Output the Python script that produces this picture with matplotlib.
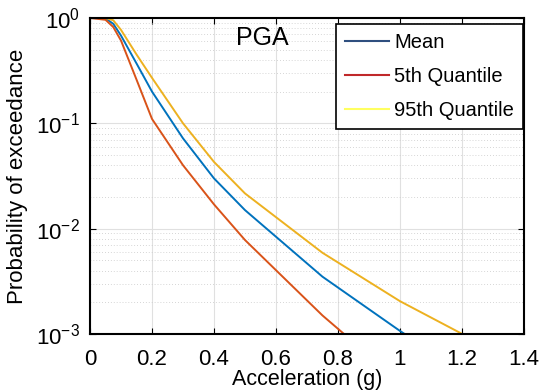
import numpy as np
import matplotlib
matplotlib.use('Agg')
import matplotlib.pyplot as plt
from matplotlib.lines import Line2D
from matplotlib.ticker import FixedLocator, LogLocator, NullFormatter

plt.rcParams['font.family'] = ['Liberation Sans', 'DejaVu Sans']
plt.rcParams['mathtext.fontset'] = 'custom'
plt.rcParams['mathtext.rm'] = 'Liberation Sans'
plt.rcParams['mathtext.it'] = 'Liberation Sans'

# hazard curve values
accel = [0.0, 0.05, 0.075, 0.1, 0.15, 0.2, 0.3, 0.4, 0.5, 0.75, 1.0, 1.25]
mean_poe = [1.0, 0.99, 0.88, 0.68, 0.37, 0.20, 0.072, 0.030, 0.015, 0.0035, 0.00107, 0.00035]
q05_poe = [1.0, 0.96, 0.82, 0.61, 0.26, 0.11, 0.040, 0.017, 0.0078, 0.0015, 0.00035, 0.0001]
q95_poe = [1.0, 1.0, 0.95, 0.77, 0.45, 0.27, 0.10, 0.043, 0.0216, 0.0059, 0.00205, 0.00084]

x_ticks = [0, 0.2, 0.4, 0.6, 0.8, 1.0, 1.2, 1.4]
x_ticklabels = ['0', '0.2', '0.4', '0.6', '0.8', '1', '1.2', '1.4']
y_ticks = [1e-3, 1e-2, 1e-1, 1e0]
y_ticklabels = ['10$^{-3}$', '10$^{-2}$', '10$^{-1}$', '10$^{0}$']

fig = plt.figure(figsize=(5.39, 3.9), dpi=100)
ax = fig.add_axes([0.167, 0.1436, 0.805, 0.8104])

ax.plot(accel, mean_poe, color='#0072BD', lw=1.4)
ax.plot(accel, q05_poe, color='#D95319', lw=1.4)
ax.plot(accel, q95_poe, color='#EDB120', lw=1.4)

ax.set_yscale('log')
ax.set_xlim(0, 1.4)
ax.set_ylim(1e-3, 1)
ax.xaxis.set_major_locator(FixedLocator(x_ticks))
ax.set_xticklabels(x_ticklabels)
ax.yaxis.set_major_locator(FixedLocator(y_ticks))
ax.set_yticklabels(y_ticklabels)
ax.yaxis.set_minor_locator(LogLocator(base=10, subs=np.arange(2, 10)))
ax.yaxis.set_minor_formatter(NullFormatter())

ax.grid(True, which='major', color='#e0e0e0', lw=0.8)
ax.grid(True, which='minor', axis='y', color='#c8c8c8', lw=0.6, ls=(0, (1, 2.5)))
ax.set_axisbelow(True)

ax.tick_params(which='both', direction='in', top=True, right=True, labelsize=16)
ax.tick_params(which='major', length=4, width=0.8)
ax.tick_params(which='minor', length=0)
ax.tick_params(axis='x', pad=11)
ax.tick_params(axis='y', pad=7)
for s in ax.spines.values():
    s.set_linewidth(1.5)

ax.set_xlabel('Acceleration (g)', fontsize=15.5, va='center')
ax.xaxis.set_label_coords(0.5, -0.143)
ax.set_ylabel('Probability of exceedance', fontsize=16, va='center')
ax.yaxis.set_label_coords(-0.166, 0.5)
ax.text(0.396, 0.935, 'PGA', transform=ax.transAxes, fontsize=18,
        ha='center', va='center')

handles = [Line2D([], [], color='#2F4F7F', lw=1.5),
           Line2D([], [], color='#C0282A', lw=1.5),
           Line2D([], [], color='#FFFF60', lw=1.5)]
leg = ax.legend(handles, ['Mean', '5th Quantile', '95th Quantile'],
                loc='upper right', bbox_to_anchor=(1.0, 0.985), fontsize=14.5,
                fancybox=False, framealpha=1, edgecolor='black',
                handlelength=2.2, handletextpad=0.25, labelspacing=0.75,
                borderpad=0.45, borderaxespad=0.05)
leg.get_frame().set_linewidth(1.2)

fig.savefig('out.png', dpi=100)
